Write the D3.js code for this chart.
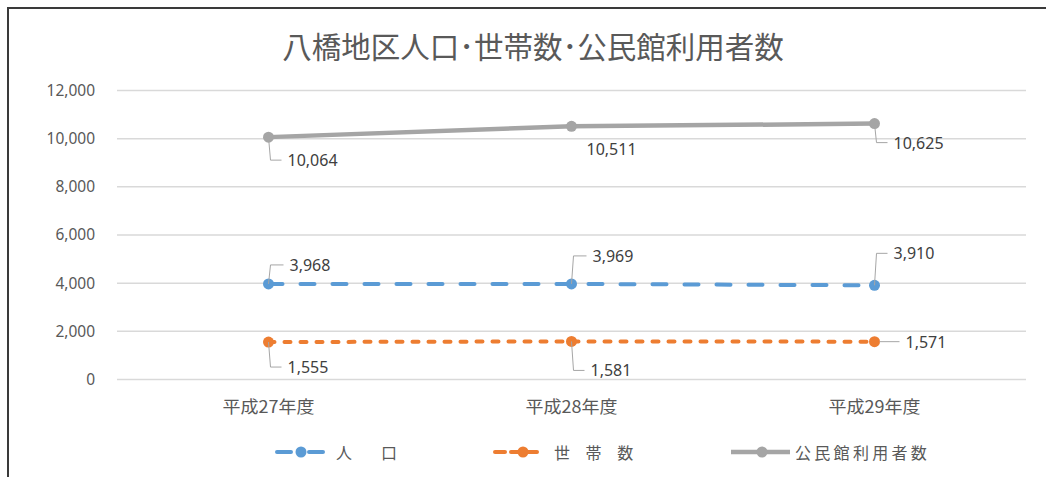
<!DOCTYPE html>
<html>
<head>
<meta charset="utf-8">
<script src="https://cdn.jsdelivr.net/npm/d3@7"></script>
<style>
  body { margin: 0; background: #fff; }
  text { font-family: "Noto Sans", "Noto Sans CJK JP", sans-serif; }
  .jp { font-family: "Noto Sans CJK JP", sans-serif; }
</style>
</head>
<body>
<div id="chart"></div>
<script>
// data
const categories = ['平成27年度', '平成28年度', '平成29年度'];
const population = [3968, 3969, 3910];
const households = [1555, 1581, 1571];
const hallUsers = [10064, 10511, 10625];
const seriesNames = ['人　口', '世 帯 数', '公民館利用者数'];
const yTicks = [0, 2000, 4000, 6000, 8000, 10000, 12000];

// label placement (offset from marker, px)
const labelPos = [
    [{ dx: 21, dy: -19 }, { dx: 21, dy: -28 }, { dx: 19, dy: -32 }],
    [{ dx: 19, dy: 25 }, { dx: 19, dy: 29 }, { dx: 31, dy: 0 }],
    [{ dx: 19, dy: 23 }, { dx: 15, dy: 23, noLeader: true }, { dx: 19, dy: 19 }],
];

const W = 1046;
const H = 477;
const margin = { left: 117, right: 20, top: 90.5, bottom: 97.5 };

const series = [
    { name: seriesNames[0], values: population, color: '#5B9BD5', dash: '14,18', width: 4 },
    { name: seriesNames[1], values: households, color: '#ED7D31', dash: '6,10', width: 4 },
    { name: seriesNames[2], values: hallUsers, color: '#A5A5A5', dash: null, width: 4.5 },
];

// legend layout
const legendSpec = [
    { x1: 275, x2: 325, mx: 301, dash: '14,18', tx: 336, ls: 6.5 },
    { x1: 493, x2: 543, mx: 523, dash: '10,6', tx: 554, ls: 6 },
    { x1: 731, x2: 790, mx: 762, dash: null, tx: 795, ls: 3.3 },
];

const svg = d3.select('#chart').append('svg')
    .attr('width', W)
    .attr('height', H);

// frame
svg.append('path')
    .attr('d', `M8,${H} V8 H${W}`)
    .attr('fill', 'none')
    .attr('stroke', '#3a3a3a')
    .attr('stroke-width', 2);

const x = d3.scaleBand()
    .domain(categories)
    .range([margin.left, W - margin.right]);
const y = d3.scaleLinear()
    .domain([0, 12000])
    .range([H - margin.bottom, margin.top]);
const cx = d => x(d) + x.bandwidth() / 2;

// title
svg.append('text')
    .attr('class', 'jp')
    .attr('x', 533)
    .attr('y', 45)
    .attr('text-anchor', 'middle')
    .attr('dominant-baseline', 'central')
    .attr('font-size', 29.5)
    .attr('fill', '#595959')
    .text('八橋地区人口･世帯数･公民館利用者数');

// grid
svg.append('g')
    .selectAll('line')
    .data(yTicks)
    .enter()
    .append('line')
    .attr('x1', margin.left)
    .attr('x2', W - margin.right)
    .attr('y1', d => y(d))
    .attr('y2', d => y(d))
    .attr('stroke', '#D9D9D9')
    .attr('stroke-width', 1.5);

// y axis labels
const yAxis = svg.append('g')
    .attr('transform', 'translate(95,0)')
    .call(d3.axisLeft(y).tickValues(yTicks).tickSize(0).tickPadding(0).tickFormat(d3.format(',')));
yAxis.select('.domain').remove();
yAxis.selectAll('text')
    .attr('font-size', 15.5)
    .attr('font-family', '"Noto Sans", sans-serif')
    .attr('fill', '#595959');

// x axis labels
const xAxis = svg.append('g')
    .attr('transform', `translate(0,${H - margin.bottom})`)
    .call(d3.axisBottom(x).tickSize(0));
xAxis.select('.domain').remove();
xAxis.selectAll('text')
    .attr('class', 'jp')
    .attr('y', 25.5)
    .attr('dy', null)
    .attr('dominant-baseline', 'central')
    .attr('font-size', 17)
    .attr('fill', '#595959')
    .attr('textLength', 92)
    .attr('lengthAdjust', 'spacingAndGlyphs');

// lines
const line = d3.line()
    .x((d, i) => cx(categories[i]))
    .y(d => y(d));

series.forEach((s, si) => {
    const g = svg.append('g');
    g.append('path')
        .datum(s.values)
        .attr('d', line)
        .attr('fill', 'none')
        .attr('stroke', s.color)
        .attr('stroke-width', s.width)
        .attr('stroke-linecap', 'round')
        .attr('stroke-dasharray', s.dash);

    g.selectAll('circle')
        .data(s.values)
        .enter()
        .append('circle')
        .attr('cx', (d, i) => cx(categories[i]))
        .attr('cy', d => y(d))
        .attr('r', 5.5)
        .attr('fill', s.color);

    // leader lines + labels
    s.values.forEach((v, i) => {
        const px = cx(categories[i]);
        const py = y(v);
        const p = labelPos[si][i];
        const ly = py + p.dy;
        if (!p.noLeader) {
            const d = p.dy === 0
                ? `M${px + 5},${py} H${px + p.dx - 6}`
                : `M${px},${py} L${px + 2},${ly} H${px + p.dx - 6}`;
            g.append('path')
                .attr('d', d)
                .attr('fill', 'none')
                .attr('stroke', '#A6A6A6')
                .attr('stroke-width', 1);
        }
        g.append('text')
            .attr('x', px + p.dx)
            .attr('y', ly)
            .attr('dominant-baseline', 'central')
            .attr('font-size', 16)
            .attr('fill', '#404040')
            .text(d3.format(',')(v));
    });
});

// legend
const legend = svg.append('g').attr('transform', 'translate(0,452)');
series.forEach((s, i) => {
    const L = legendSpec[i];
    const lg = legend.append('g');
    lg.append('line')
        .attr('x1', L.dash ? L.x1 + 2 : L.x1)
        .attr('x2', L.dash ? L.x2 - 2 : L.x2)
        .attr('stroke', s.color)
        .attr('stroke-width', s.width)
        .attr('stroke-linecap', L.dash ? 'round' : 'butt')
        .attr('stroke-dasharray', L.dash);
    lg.append('circle')
        .attr('cx', L.mx)
        .attr('r', 5.5)
        .attr('fill', s.color);
    lg.append('text')
        .attr('class', 'jp')
        .attr('x', L.tx)
        .attr('dominant-baseline', 'central')
        .attr('font-size', 16)
        .attr('letter-spacing', L.ls)
        .attr('fill', '#595959')
        .attr('xml:space', 'preserve')
        .text(s.name);
});
</script>
</body>
</html>
